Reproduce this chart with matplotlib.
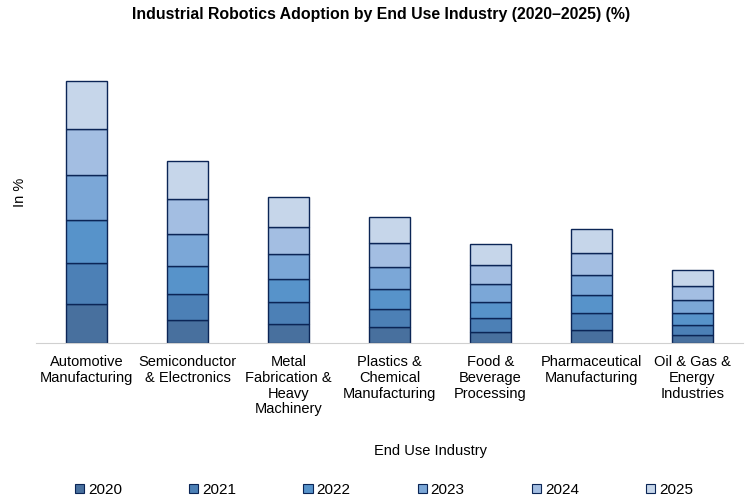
import matplotlib
matplotlib.use("Agg")
import matplotlib.pyplot as plt
import numpy as np

plt.rcParams['font.family'] = ['Liberation Sans', 'DejaVu Sans']

industries = ["Automotive\nManufacturing", "Semiconductor\n& Electronics",
              "Metal\nFabrication &\nHeavy\nMachinery", "Plastics &\nChemical\nManufacturing",
              "Food &\nBeverage\nProcessing", "Pharmaceutical\nManufacturing",
              "Oil & Gas &\nEnergy\nIndustries"]
years = ["2020", "2021", "2022", "2023", "2024", "2025"]

# share of each year (estimated, no axis values in the source)
v2020 = [3.9, 2.3, 1.9, 1.6, 1.1, 1.3, 0.8]
v2021 = [4.1, 2.6, 2.2, 1.8, 1.4, 1.7, 1.0]
v2022 = [4.3, 2.8, 2.3, 2.0, 1.6, 1.8, 1.2]
v2023 = [4.5, 3.2, 2.5, 2.2, 1.8, 2.0, 1.3]
v2024 = [4.6, 3.5, 2.7, 2.4, 1.9, 2.2, 1.4]
v2025 = [4.8, 3.8, 3.0, 2.6, 2.1, 2.4, 1.6]
series = [v2020, v2021, v2022, v2023, v2024, v2025]

colors = ["#48709e", "#4c80b6", "#5793ca", "#7ba7d7", "#a3bee2", "#c6d6ea"]
edge = "#0b2556"

fig = plt.figure(figsize=(7.53, 4.99), dpi=100)
W, H = 753, 499
ax = fig.add_axes([36 / W, 1 - 343 / H, 707 / W, 283 / H])

x = np.arange(len(industries))
bottom = np.zeros(len(industries))
for yr, vals, c in zip(years, series, colors):
    ax.bar(x, vals, width=0.41, bottom=bottom, color=c, edgecolor=edge,
           linewidth=1.0, label=yr)
    bottom += np.array(vals)

ax.set_xlim(-0.5, len(industries) - 0.5)
ax.set_ylim(0, 28.3)
ax.set_yticks([])
ax.set_xticks(x)
ax.set_xticklabels(industries, fontsize=10.5, linespacing=1.15)
ax.tick_params(axis='x', length=0, pad=9)
for s in ["top", "right", "left"]:
    ax.spines[s].set_visible(False)
ax.spines["bottom"].set_color("#d0d0d0")

fig.text(381 / W, 1 - 14 / H, "Industrial Robotics Adoption by End Use Industry (2020\u20132025) (%)",
         ha="center", va="center", fontsize=11.4, fontweight="bold")
fig.text(20 / W, 1 - 192 / H, "In %", rotation=90, ha="center", va="center", fontsize=10.5)
fig.text(430 / W, 1 - 451 / H, "End Use Industry", ha="center", va="center", fontsize=10.5)

handles, labels = ax.get_legend_handles_labels()
leg = fig.legend(handles, labels, loc="center", bbox_to_anchor=(384 / W, 1 - 490 / H),
                 ncol=6, frameon=False, fontsize=11, handlelength=0.6, handleheight=0.6,
                 handletextpad=0.25, columnspacing=4.4)
for p in leg.get_patches():
    p.set_linewidth(0.8)

fig.savefig("out.png", dpi=100)
